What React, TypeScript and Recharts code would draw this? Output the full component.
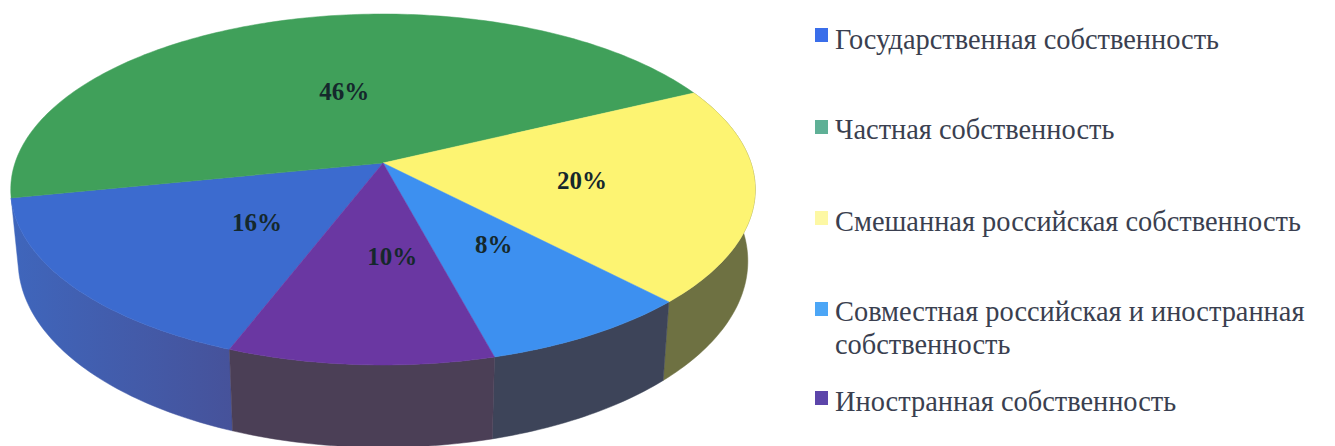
import React from "react";
import { PieChart, Pie, Legend } from "recharts";

const categories = [
  "Государственная собственность",
  "Частная собственность",
  "Смешанная российская собственность",
  "Совместная российская и иностранная собственность",
  "Иностранная собственность",
];
const shares = [16, 46, 20, 8, 10];
const topColors = ["#3c6bcf", "#40a05a", "#fdf472", "#3d90f0", "#6a37a2"];
const wallColors = ["url(#blueWall)", "none", "#6e7142", "#3d4459", "#4b3f56"];
const legendColors = ["#3a6eea", "#5fb096", "#fdf8a4", "#4ca6f6", "#5c45aa"];

const rows = categories.map((name, i) => ({
  name,
  value: shares[i],
  fill: topColors[i],
  wall: wallColors[i],
}));

// perspective projection of the pie disc
const TILT = 0.466;
const PERSP = 0.151;
const DEPTH = 70;
const WALL_SHRINK = 0.98;
const RAD = Math.PI / 180;

function project(cx: number, cy: number, r: number, angle: number, frac = 1) {
  const X = Math.cos(angle * RAD) * frac;
  const Y = -Math.sin(angle * RAD) * frac; // towards the viewer = positive
  const w = 1 - PERSP * Y;
  return { x: cx + (r * X) / w, y: cy + (r * TILT * Y) / w, w };
}

function arcPoints(p: any) {
  const pts = [];
  const n = Math.max(2, Math.ceil(Math.abs(p.endAngle - p.startAngle)));
  for (let i = 0; i <= n; i++) {
    const a = p.startAngle + ((p.endAngle - p.startAngle) * i) / n;
    pts.push(project(p.cx, p.cy, p.outerRadius, a));
  }
  return pts;
}

function TopSlice(p: any) {
  const pts = arcPoints(p);
  const d =
    `M${p.cx},${p.cy} ` + pts.map((q: any) => `L${q.x.toFixed(2)},${q.y.toFixed(2)}`).join(" ") + " Z";
  return <path d={d} fill={p.fill} stroke={p.fill} strokeWidth={0.5} />;
}

function WallSlice(p: any) {
  const pts = arcPoints(p);
  const upper = pts.map((q: any) => `${q.x.toFixed(2)},${q.y.toFixed(2)}`);
  const lower = pts
    .slice()
    .reverse()
    .map((q: any) => `${(p.cx + (q.x - p.cx) * WALL_SHRINK).toFixed(2)},${(q.y + DEPTH / q.w).toFixed(2)}`);
  const d = `M${upper.join(" L")} L${lower.join(" L")} Z`;
  const fill = p.payload?.wall ?? p.wall;
  return <path d={d} fill={fill} stroke={fill} strokeWidth={0.5} />;
}

const labelNudgeX = [28, 18, 8, 10, 20];
const labelNudgeY = [-1, 7, 1, -2, -3];

function SliceLabel(p: any) {
  const q = project(p.cx, p.cy, p.outerRadius, p.midAngle, 0.52);
  const i = p.index ?? 0;
  return (
    <text
      x={q.x + labelNudgeX[i]}
      y={q.y + labelNudgeY[i]}
      textAnchor="middle"
      dominantBaseline="central"
      fill="#15282c"
      fontFamily="'Liberation Serif', serif"
      fontWeight={700}
      fontSize={25}
    >
      {p.value}%
    </text>
  );
}

const legendTextTops = [23, 113, 205, 295, 385];
const legendMarkTops = [28, 120, 211, 302, 391];

function LegendBlock({ payload }: any) {
  const items = (payload || []).filter((e: any) => e.type !== "none");
  return (
    <div style={{ position: "relative", width: 1335, height: 446 }}>
      {items.map((entry: any, i: number) => (
        <div key={entry.value}>
          <div
            style={{
              position: "absolute",
              left: 815,
              top: legendMarkTops[i],
              width: 13,
              height: 14,
              background: legendColors[i],
            }}
          />
          <div
            style={{
              position: "absolute",
              left: 835,
              top: legendTextTops[i],
              width: 490,
              fontFamily: "'Liberation Serif', serif",
              fontSize: 28.4,
              lineHeight: "33px",
              color: "#3a3f50",
            }}
          >
            {entry.value}
          </div>
        </div>
      ))}
    </div>
  );
}

export default function App() {
  return (
    <div style={{ position: "absolute", left: 0, top: 0, width: 1335, height: 446, background: "#fff", overflow: "hidden" }}>
      <PieChart width={1335} height={446} margin={{ top: 0, right: 0, bottom: 0, left: 0 }}>
        <defs>
          <linearGradient id="blueWall" x1="0" y1="0" x2="1" y2="0">
            <stop offset="0%" stopColor="#3f66bc" />
            <stop offset="100%" stopColor="#46529a" />
          </linearGradient>
        </defs>
        <Pie
          data={rows}
          dataKey="value"
          nameKey="name"
          cx={383}
          cy={163}
          innerRadius={0}
          outerRadius={368}
          startAngle={-111}
          endAngle={-471}
          stroke="none"
          legendType="none"
          isAnimationActive={false}
          shape={WallSlice}
        />
        <Pie
          data={rows}
          dataKey="value"
          nameKey="name"
          cx={383}
          cy={163}
          innerRadius={0}
          outerRadius={368}
          startAngle={-111}
          endAngle={-471}
          stroke="none"
          isAnimationActive={false}
          shape={TopSlice}
          label={SliceLabel}
          labelLine={false}
        />
        <Legend
          content={LegendBlock}
          itemSorter={null}
          wrapperStyle={{ left: 0, top: 0, width: 1335, height: 446, pointerEvents: "none" }}
        />
      </PieChart>
    </div>
  );
}
